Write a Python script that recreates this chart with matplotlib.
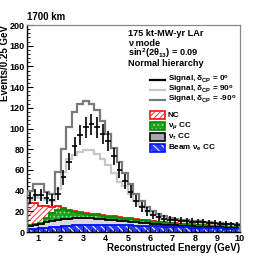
import numpy as np
import matplotlib
matplotlib.use("Agg")
import matplotlib.pyplot as plt
from matplotlib.patches import Rectangle
from matplotlib.lines import Line2D

# ---------------- data ----------------
e_lo, e_hi, bin_w = 0.5, 10.0, 0.25
x_ticks = [1, 2, 3, 4, 5, 6, 7, 8, 9, 10]
y_ticks = [0, 20, 40, 60, 80, 100, 120, 140, 160, 180, 200]

# Signal delta_CP = 0 (shown as points with errors)
sig_0 = [33, 36, 36, 33, 31, 37, 53, 68, 83, 94, 101, 104, 101, 95, 88, 73, 60, 49,
         39, 30, 24.5, 20, 16.5, 14.5, 13, 12, 11.3, 10.8, 10.3, 10, 9.6, 9.2, 8.8,
         8.5, 8.1, 7.7, 7.3, 7.0]
# Signal delta_CP = +90
sig_p90 = [31, 34, 33, 31, 30, 42, 58, 71, 74.5, 77.5, 79, 79, 75, 71, 65, 57, 48.5, 44,
           37, 30, 25, 20.5, 17, 14.5, 13, 12, 11.2, 10.6, 10.1, 9.7, 9.3, 8.9, 8.5,
           8.2, 7.8, 7.4, 7.0, 6.7]
# Signal delta_CP = -90
sig_m90 = [40, 46, 46, 39, 37, 58, 80, 101, 116, 124, 127, 124, 118, 107, 95, 81, 68, 57,
           46, 37, 30, 24, 20, 17, 15, 13.5, 12.5, 11.8, 11.2, 10.7, 10.2, 9.8, 9.4,
           9.0, 8.6, 8.2, 7.8, 7.4]

# Backgrounds (stacked components)
beam_nue = [2.5, 3, 3.5, 4, 4.5, 5, 5.5, 6, 6.5, 6.8, 7, 7, 7, 7, 6.9, 6.8, 6.7, 6.6,
            6.4, 6.2, 6.0, 5.8, 5.6, 5.4, 5.2, 5.0, 4.8, 4.6, 4.4, 4.2, 4.0, 3.8, 3.7,
            3.6, 3.4, 3.3, 3.2, 3.0]
nutau_cc = [3.5, 4, 4.5, 6, 6.5, 7, 7, 7, 7, 6.7, 6.5, 6.2, 6, 5.5, 5.1, 4.7, 4.3, 3.9,
            3.6, 3.3, 3.0, 2.7, 2.4, 2.2, 2.0, 1.8, 1.7, 1.6, 1.5, 1.4, 1.3, 1.2, 1.1,
            1.0, 1.0, 0.9, 0.8, 0.8]
numu_cc = [0.3, 0.4, 0.5, 3.5, 7, 9, 9.5, 7.5, 5.5, 4.5, 3.7, 3.4, 3.0, 3.0, 2.8, 2.7,
           2.6, 2.5, 2.4, 2.3, 2.2, 2.1, 2.0, 1.9, 1.8, 1.7, 1.6, 1.5, 1.4, 1.4, 1.3,
           1.3, 1.2, 1.1, 1.0, 0.9, 0.9, 0.8]
nc = [21.7, 20.6, 16.5, 11.5, 6, 4, 1.5, 1.2, 1.0, 1.0, 1.0, 1.0, 1.0, 0.9, 0.8, 0.8,
      0.8, 0.8, 0.7, 0.7, 0.6, 0.6, 0.6, 0.6, 0.5, 0.5, 0.5, 0.5, 0.5, 0.5, 0.4, 0.4,
      0.4, 0.4, 0.4, 0.4, 0.4, 0.4]

# ---------------- style ----------------
plt.rcParams['font.family'] = ['Liberation Sans', 'DejaVu Sans']
plt.rcParams['font.weight'] = 'bold'
plt.rcParams['mathtext.fontset'] = 'custom'
plt.rcParams['mathtext.rm'] = 'Liberation Sans:bold'
plt.rcParams['mathtext.it'] = 'Liberation Sans:italic:bold'
plt.rcParams['mathtext.bf'] = 'Liberation Sans:bold'
plt.rcParams['hatch.linewidth'] = 0.7

fs = 7
fs_tick = 6.5
fs_info = 6.6
fs_leg = 5.9
edges = np.arange(e_lo, e_hi + bin_w / 2, bin_w)
centers = 0.5 * (edges[:-1] + edges[1:])

b_top = np.array(beam_nue)
tau_top = b_top + np.array(nutau_cc)
mu_top = tau_top + np.array(numu_cc)
nc_top = mu_top + np.array(nc)

fig = plt.figure(figsize=(2.66, 2.58), dpi=100)
ax = fig.add_axes([27 / 266, 1 - 232 / 258, 212.8 / 266, 207 / 258])

# backgrounds
ax.stairs(nc_top, edges, baseline=mu_top, fill=True, facecolor='white',
          edgecolor='#ff3030', hatch='//////', lw=0, zorder=1)
ax.stairs(mu_top, edges, baseline=tau_top, fill=True, facecolor='#22a022',
          edgecolor='#90e090', hatch='....', lw=0, zorder=1)
ax.stairs(tau_top, edges, baseline=b_top, fill=True, facecolor='#d8d8d8',
          lw=0, zorder=1)
ax.stairs(b_top, edges, baseline=0, fill=True, facecolor='#2a3cff',
          edgecolor='white', hatch='\\\\\\\\', lw=0, zorder=1)
ax.stairs(nc_top, edges, color='#ff1010', lw=1.3, zorder=2)
ax.stairs(mu_top, edges, color='#009000', lw=1.3, zorder=2)
ax.stairs(tau_top, edges, color='black', lw=1.3, zorder=2)
ax.stairs(b_top, edges, color='#0010ff', lw=1.3, zorder=2)

# signals
ax.stairs(sig_p90, edges, color='#c8c8c8', lw=1.6, zorder=3)
ax.stairs(sig_m90, edges, color='#7a7a7a', lw=1.6, zorder=3)
ax.errorbar(centers, sig_0, xerr=bin_w / 2, yerr=np.sqrt(sig_0), fmt='none',
            ecolor='black', elinewidth=1.2, capsize=0, zorder=4)

# axes
ax.set_xlim(e_lo, e_hi)
ax.set_ylim(y_ticks[0], y_ticks[-1])
ax.set_xticks(x_ticks)
ax.set_xticklabels([str(v) for v in x_ticks], fontsize=fs_tick, fontweight='bold')
ax.set_yticks(y_ticks)
ax.set_yticklabels([str(v) for v in y_ticks], fontsize=fs_tick, fontweight='bold')
ax.set_xticks(np.arange(0.6, 10.01, 0.2), minor=True)
ax.set_yticks(np.arange(0, 201, 4), minor=True)
ax.tick_params(which='both', direction='in', top=False, right=False, pad=1.5)
ax.tick_params(which='major', length=4.5, width=0.8)
ax.tick_params(which='minor', length=2.2, width=0.6)
for s in ['top', 'right']:
    ax.spines[s].set_color('#888888')
    ax.spines[s].set_linewidth(0.9)
for s in ['left', 'bottom']:
    ax.spines[s].set_color('black')
    ax.spines[s].set_linewidth(1.0)

ax.set_ylabel('Events/0.25 GeV', fontsize=fs, fontweight='bold', loc='top')
ax.yaxis.set_label_coords((5 - 27) / 212.8, 1.0)
ax.yaxis.label.set_va('center')
ax.set_xlabel('Reconstructed Energy (GeV)', fontsize=fs, fontweight='bold', loc='right')
ax.xaxis.set_label_coords(1.0, (232 - 248) / 207)
ax.xaxis.label.set_va('center')
fig.text(27 / 266, 1 - 17 / 258, '1700 km', fontsize=fs, fontweight='bold',
         ha='left', va='center')

# info text
def ax_xy(px, py):
    return (px - 27) / 212.8, (232 - py) / 207

info = ['175 kt-MW-yr LAr', 'ν mode', 'sin$^2$(2θ$_{13}$) = 0.09', 'Normal hierarchy']
for t, py in zip(info, [33, 43, 53, 63]):
    x, y = ax_xy(128, py)
    ax.text(x, y, t, transform=ax.transAxes, fontsize=fs_info, fontweight='bold',
            ha='left', va='center')

# legend (manual)
leg_lines = [('Signal, δ$_{\\mathrm{CP}}$ = 0$^{\\mathrm{o}}$', 'black', 80),
             ('Signal, δ$_{\\mathrm{CP}}$ = 90$^{\\mathrm{o}}$', '#c8c8c8', 90),
             ('Signal, δ$_{\\mathrm{CP}}$ = -90$^{\\mathrm{o}}$', '#7a7a7a', 100)]
for t, c, py in leg_lines:
    x0, y = ax_xy(150, py)
    x1, _ = ax_xy(165, py)
    ax.add_line(Line2D([x0, x1], [y, y], color=c, lw=1.6, transform=ax.transAxes))
    xt, _ = ax_xy(168, py)
    ax.text(xt, y, t, transform=ax.transAxes, fontsize=fs_leg, fontweight='bold',
            ha='left', va='center')

leg_boxes = [('NC', 'white', '#ff1010', '#ff3030', '//////', 115),
             ('ν$_{\\mu}$ CC', '#22a022', '#009000', '#90e090', '....', 126),
             ('ν$_{\\tau}$ CC', '#a8a8a8', 'black', None, None, 137),
             ('Beam ν$_{e}$ CC', '#2a3cff', '#0010ff', 'white', '\\\\\\\\', 148)]
w = 15 / 212.8
h = 8 / 207
for t, fc, ec, hc, hatch, py in leg_boxes:
    x0, y = ax_xy(150, py)
    if hatch:
        ax.add_patch(Rectangle((x0, y - h / 2), w, h, transform=ax.transAxes,
                               facecolor=fc, edgecolor=hc, hatch=hatch, lw=0,
                               clip_on=False, zorder=5))
    else:
        ax.add_patch(Rectangle((x0, y - h / 2), w, h, transform=ax.transAxes,
                               facecolor=fc, lw=0, clip_on=False, zorder=5))
    ax.add_patch(Rectangle((x0, y - h / 2), w, h, transform=ax.transAxes,
                           facecolor='none', edgecolor=ec, lw=1.2,
                           clip_on=False, zorder=6))
    xt, _ = ax_xy(168, py)
    ax.text(xt, y, t, transform=ax.transAxes, fontsize=fs_leg, fontweight='bold',
            ha='left', va='center')

fig.savefig('out.png', dpi=100)
